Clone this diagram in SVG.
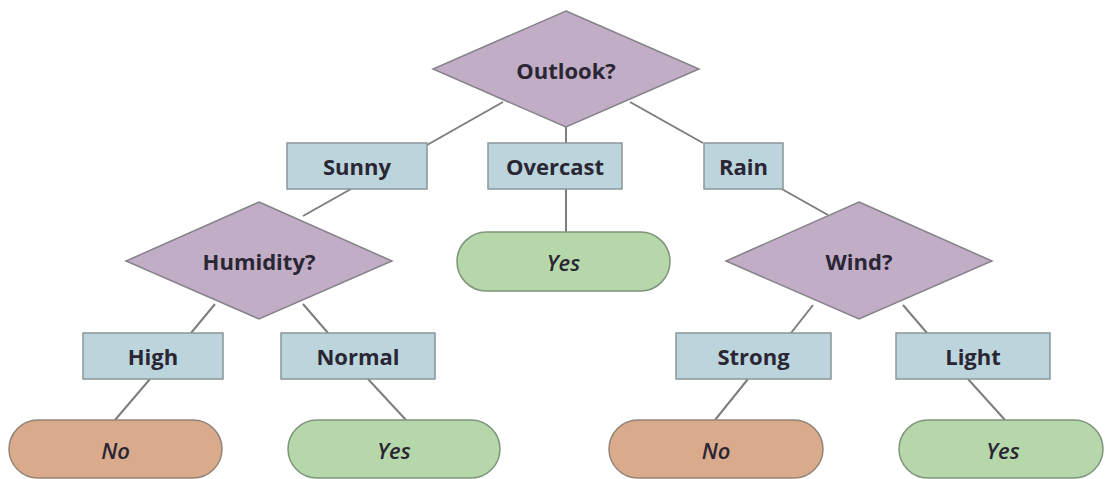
<svg xmlns="http://www.w3.org/2000/svg" width="1105" height="479" viewBox="0 0 1105 479">
<style>
.dia{fill:#c1adc5;stroke:#86828a;stroke-width:1.5}
.box{fill:#bcd5dc;stroke:#89979a;stroke-width:1.5}
.yes{fill:#b5d7aa;stroke:#7f947b;stroke-width:1.5}
.no{fill:#d9aa8b;stroke:#948478;stroke-width:1.5}
.t{font-family:"Open Sans","DejaVu Sans",sans-serif;font-weight:700;font-size:22px;fill:#2a2634;text-anchor:middle;dominant-baseline:central}
.i{font-style:italic;font-weight:600}
#connectors line{stroke:#7d7d7d;stroke-width:2}
</style>
<rect width="1105" height="479" fill="#ffffff"/>
<g id="connectors">
<line x1="503" y1="102" x2="427" y2="145"/>
<line x1="566" y1="127" x2="566" y2="143"/>
<line x1="630" y1="102" x2="703" y2="143"/>
<line x1="566" y1="189" x2="566" y2="232"/>
<line x1="351" y1="189" x2="303" y2="216"/>
<line x1="780" y1="188" x2="828" y2="215"/>
<line x1="215" y1="304" x2="191" y2="333"/>
<line x1="303" y1="304" x2="328" y2="333"/>
<line x1="813" y1="305" x2="791" y2="333"/>
<line x1="903" y1="305" x2="927" y2="333"/>
<line x1="150" y1="379" x2="115" y2="420"/>
<line x1="368" y1="379" x2="406" y2="420"/>
<line x1="748" y1="379" x2="715" y2="420"/>
<line x1="968" y1="379" x2="1005" y2="420"/>
</g>
<g id="outlook"><polygon class="dia" points="566,11 699,69 566,127 433,69"/><text class="t" x="566" y="70">Outlook?</text></g>
<g id="sunny"><rect class="box" x="287" y="143" width="140" height="46"/><text class="t" x="357" y="166">Sunny</text></g>
<g id="overcast"><rect class="box" x="488" y="143" width="134" height="46"/><text class="t" x="555" y="166">Overcast</text></g>
<g id="rain"><rect class="box" x="704" y="143" width="79" height="46"/><text class="t" x="743.5" y="166">Rain</text></g>
<g id="yes-overcast"><rect class="yes" x="457" y="232" width="213" height="59" rx="29.5"/><text class="t i" x="563.5" y="262">Yes</text></g>
<g id="humidity"><polygon class="dia" points="259,202 392,261 259,319 126,261"/><text class="t" x="259" y="261">Humidity?</text></g>
<g id="wind"><polygon class="dia" points="859,202 992,261 859,319 726,261"/><text class="t" x="859" y="261">Wind?</text></g>
<g id="high"><rect class="box" x="83" y="333" width="140" height="46"/><text class="t" x="153" y="356">High</text></g>
<g id="normal"><rect class="box" x="281" y="333" width="154" height="46"/><text class="t" x="358" y="356">Normal</text></g>
<g id="strong"><rect class="box" x="676" y="333" width="155" height="46"/><text class="t" x="753.5" y="356">Strong</text></g>
<g id="light"><rect class="box" x="896" y="333" width="154" height="46"/><text class="t" x="973" y="356">Light</text></g>
<g id="no-high"><rect class="no" x="9" y="420" width="213" height="58" rx="29"/><text class="t i" x="115.5" y="450">No</text></g>
<g id="yes-normal"><rect class="yes" x="288" y="420" width="212" height="58" rx="29"/><text class="t i" x="394" y="450">Yes</text></g>
<g id="no-strong"><rect class="no" x="609" y="420" width="214" height="58" rx="29"/><text class="t i" x="716" y="450">No</text></g>
<g id="yes-light"><rect class="yes" x="899" y="420" width="204" height="58" rx="29"/><text class="t i" x="1003" y="450">Yes</text></g>
</svg>
